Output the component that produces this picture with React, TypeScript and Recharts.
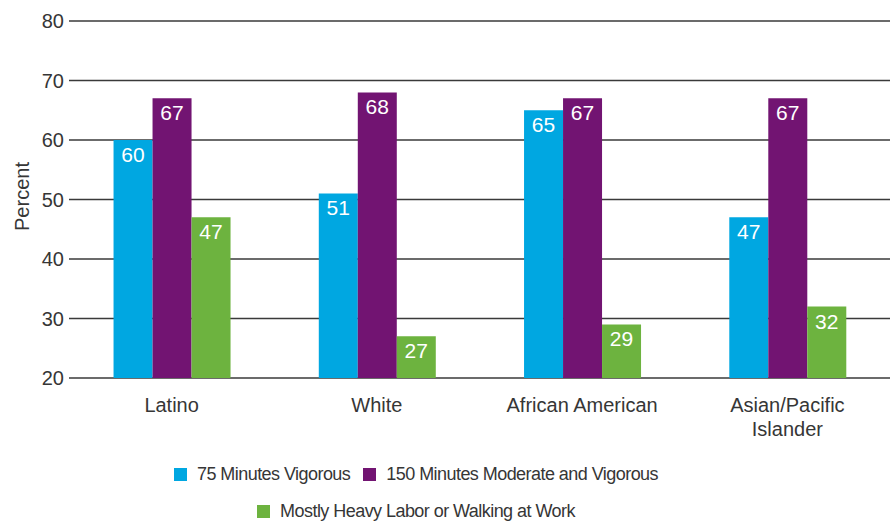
import React from "react";
import {
  BarChart,
  Bar,
  XAxis,
  YAxis,
  CartesianGrid,
  Legend,
  LabelList,
} from "recharts";

// Group labels (line breaks mark where a label wraps)
const categories = ["Latino", "White", "African American", "Asian/Pacific\nIslander"];

// Percent of adults meeting each activity measure
const vigorous75 = [60, 51, 65, 47];
const moderateVigorous150 = [67, 68, 67, 67];
const heavyLaborWalking = [47, 27, 29, 32];

const seriesNames = [
  "75 Minutes Vigorous",
  "150 Minutes Moderate and Vigorous",
  "Mostly Heavy Labor or Walking at Work",
];

const yTicks = [20, 30, 40, 50, 60, 70, 80];

const data = categories.map((name, i) => ({
  name,
  vigorous75: vigorous75[i],
  moderateVigorous150: moderateVigorous150[i],
  heavyLaborWalking: heavyLaborWalking[i],
}));

const FONT = '"Liberation Sans", Arial, Helvetica, sans-serif';
const TEXT = "#363636";
const BLUE = "#00A7E1";
const PURPLE = "#721472";
const GREEN = "#6DB33F";

const CategoryTick = (props: any) => {
  const { x, y, payload } = props;
  const lines = String(payload.value).split("\n");
  return (
    <text
      x={x}
      y={y}
      textAnchor="middle"
      fill={TEXT}
      fontSize={20}
      fontFamily={FONT}
    >
      {lines.map((line: string, i: number) => (
        <tspan key={i} x={x} dy={i === 0 ? 26 : 24}>
          {line}
        </tspan>
      ))}
    </text>
  );
};

const PercentLabel = (props: any) => {
  const { viewBox } = props;
  const cx = viewBox.x + viewBox.width / 2 - 17;
  const cy = viewBox.y + viewBox.height / 2 - 3;
  return (
    <text
      x={cx}
      y={cy}
      transform={`rotate(-90, ${cx}, ${cy})`}
      textAnchor="middle"
      dominantBaseline="central"
      fill={TEXT}
      fontSize={20}
      fontFamily={FONT}
    >
      Percent
    </text>
  );
};

const LegendContent = (props: any) => {
  const payload = [...(props.payload || [])].sort(
    (a: any, b: any) => seriesNames.indexOf(a.value) - seriesNames.indexOf(b.value)
  );
  const rows = [payload.slice(0, 2), payload.slice(2)];
  return (
    <div style={{ fontFamily: FONT, fontSize: 18, letterSpacing: -0.55, color: TEXT }}>
      {rows.map((row: any[], ri: number) => (
        <div
          key={ri}
          style={{
            display: "flex",
            justifyContent: "center",
            alignItems: "center",
            height: 37,
            gap: 13,
          }}
        >
          {row.map((item: any) => (
            <div
              key={item.value}
              style={{ display: "flex", alignItems: "center", whiteSpace: "nowrap" }}
            >
              <span
                style={{
                  display: "inline-block",
                  width: 13,
                  height: 13,
                  background: item.color,
                  marginRight: 10,
                }}
              />
              <span>{item.value}</span>
            </div>
          ))}
        </div>
      ))}
    </div>
  );
};

const valueLabelProps = {
  position: "insideTop" as const,
  offset: 7,
  fill: "#ffffff",
  fontSize: 21,
  fontFamily: FONT,
};

export default function App() {
  return (
    <div style={{ position: "absolute", left: 0, top: 0, background: "#fff" }}>
      <BarChart
        width={892}
        height={523}
        data={data}
        margin={{ top: 21, right: 2, left: 9, bottom: 85 }}
        barCategoryGap="21.7%"
        barGap={0}
      >
        <CartesianGrid
          vertical={false}
          stroke="#3a3a3a"
          strokeWidth={1.3}
        />
        <XAxis
          dataKey="name"
          axisLine={false}
          tickLine={false}
          height={60}
          interval={0}
          tick={<CategoryTick />}
        />
        <YAxis
          width={60}
          domain={[20, 80]}
          ticks={yTicks}
          allowDataOverflow
          axisLine={false}
          tickLine={false}
          tickSize={3}
          tickMargin={2}
          tick={{ fill: TEXT, fontSize: 20, fontFamily: FONT }}
          label={{ content: <PercentLabel /> }}
        />
        <Legend
          layout="horizontal"
          verticalAlign="middle"
          align="center"
          content={<LegendContent />}
          wrapperStyle={{ left: 0, top: 456, width: 832 }}
        />
        <Bar
          dataKey="vigorous75"
          name={seriesNames[0]}
          fill={BLUE}
          isAnimationActive={false}
        >
          <LabelList dataKey="vigorous75" {...valueLabelProps} />
        </Bar>
        <Bar
          dataKey="moderateVigorous150"
          name={seriesNames[1]}
          fill={PURPLE}
          isAnimationActive={false}
        >
          <LabelList dataKey="moderateVigorous150" {...valueLabelProps} />
        </Bar>
        <Bar
          dataKey="heavyLaborWalking"
          name={seriesNames[2]}
          fill={GREEN}
          isAnimationActive={false}
        >
          <LabelList dataKey="heavyLaborWalking" {...valueLabelProps} />
        </Bar>
      </BarChart>
    </div>
  );
}
